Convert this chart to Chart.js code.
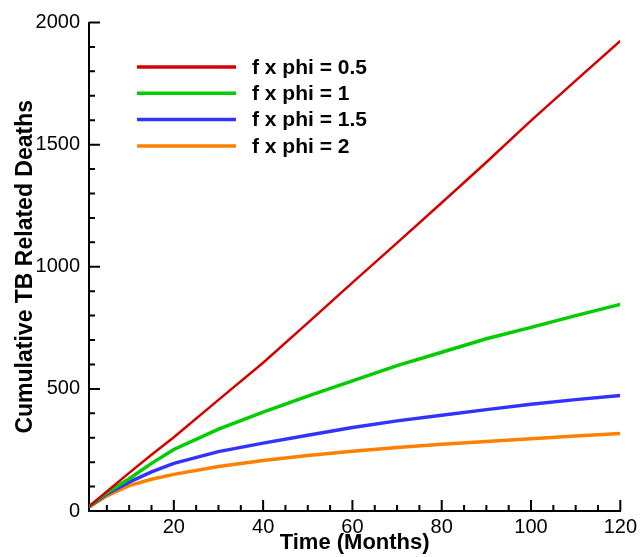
<!DOCTYPE html>
<html>
<head>
<meta charset="utf-8">
<script src="https://cdn.jsdelivr.net/npm/chart.js@4/dist/chart.umd.min.js"></script>
<style>
  html, body { margin: 0; padding: 0; background: #fff; }
  #wrap { width: 641px; height: 557px; position: relative; }
</style>
</head>
<body>
<div id="wrap"><canvas id="c" width="641" height="557"></canvas></div>
<script>
// ---- Data ----
const months = [1, 5, 10, 15, 20, 30, 40, 50, 60, 70, 80, 90, 100, 110, 120];
const seriesLabels = ['f x phi = 0.5', 'f x phi = 1', 'f x phi = 1.5', 'f x phi = 2'];
const deathsPhi05 = [18, 80, 156, 230, 302, 455, 607, 770, 935, 1098, 1262, 1428, 1598, 1762, 1925];
const deathsPhi1  = [18, 75, 132, 195, 252, 335, 405, 470, 533, 595, 650, 705, 752, 800, 846];
const deathsPhi15 = [17, 70, 118, 160, 195, 243, 278, 310, 342, 369, 392, 415, 437, 456, 473];
const deathsPhi2  = [16, 62, 104, 130, 150, 182, 207, 227, 245, 260, 273, 285, 296, 307, 317];
const xTickLabels = [20, 40, 60, 80, 100, 120];
const yTickLabels = [0, 500, 1000, 1500, 2000];
const xMinorStep = 5;
const yMinorStep = 100;

const colors = ['#d40000', '#00cc00', '#3333ff', '#ff8000'];
const widths = [2.5, 3.5, 3.5, 3.5];
const allSeries = [deathsPhi05, deathsPhi1, deathsPhi15, deathsPhi2];

const datasets = allSeries.map((vals, i) => ({
  label: seriesLabels[i],
  data: months.map((m, j) => ({ x: m, y: vals[j] })),
  borderColor: colors[i],
  backgroundColor: colors[i],
  borderWidth: widths[i],
  pointRadius: 0,
  tension: 0,
  fill: false
}));

// Inner tick marks (major + minor) drawn from the scales
const innerTicks = {
  id: 'innerTicks',
  beforeDatasetsDraw(chart) {
    const { ctx, chartArea, scales } = chart;
    const xs = scales.x, ys = scales.y;
    ctx.save();
    ctx.strokeStyle = '#000';
    ctx.lineWidth = 2;
    ctx.beginPath();
    for (let v = xMinorStep; v <= xs.max + 1e-9; v += xMinorStep) {
      const px = xs.getPixelForValue(v);
      const len = xTickLabels.includes(v) ? 11 : 6;
      ctx.moveTo(px, chartArea.bottom);
      ctx.lineTo(px, chartArea.bottom - len);
    }
    for (let v = yMinorStep; v <= ys.max + 1e-9; v += yMinorStep) {
      const py = ys.getPixelForValue(v);
      const len = yTickLabels.includes(v) ? 11 : 6;
      ctx.moveTo(chartArea.left, py);
      ctx.lineTo(chartArea.left + len, py);
    }
    ctx.stroke();
    ctx.restore();
  }
};

// Legend drawn inside the plot area
const insideLegend = {
  id: 'insideLegend',
  afterDraw(chart) {
    const { ctx } = chart;
    ctx.save();
    chart.data.datasets.forEach((ds, i) => {
      const y = 67 + i * 26.3;
      ctx.strokeStyle = ds.borderColor;
      ctx.lineWidth = 3.5;
      ctx.beginPath();
      ctx.moveTo(137, y);
      ctx.lineTo(236, y);
      ctx.stroke();
      ctx.fillStyle = '#000';
      ctx.font = 'bold 21px "Liberation Sans", Arial, sans-serif';
      ctx.textBaseline = 'middle';
      ctx.textAlign = 'left';
      ctx.fillText(ds.label, 252, y + 1);
    });
    ctx.restore();
  }
};

new Chart(document.getElementById('c'), {
  type: 'line',
  data: { datasets },
  plugins: [innerTicks, insideLegend],
  options: {
    responsive: false,
    animation: false,
    layout: { padding: { left: 0, right: 18, top: 22.5, bottom: 0 } },
    plugins: { legend: { display: false }, tooltip: { enabled: false } },
    scales: {
      x: {
        type: 'linear',
        min: 1,
        max: 120,
        grid: { display: false, drawTicks: false },
        border: { display: true, color: '#000', width: 2 },
        afterBuildTicks: (s) => { s.ticks = xTickLabels.map(v => ({ value: v })); },
        afterFit: (s) => { s.height = 46; },
        ticks: {
          color: '#000',
          padding: 4,
          maxRotation: 0,
          callback: (v) => String(v),
          font: { family: '"Liberation Sans", Arial, sans-serif', size: 20 }
        },
        title: {
          display: true,
          text: 'Time (Months)',
          color: '#000',
          padding: { top: 0, bottom: 1 },
          font: { family: '"Liberation Sans", Arial, sans-serif', size: 22, weight: 'bold' }
        }
      },
      y: {
        type: 'linear',
        min: 0,
        max: 2000,
        grid: { display: false, drawTicks: false },
        border: { display: true, color: '#000', width: 2 },
        afterBuildTicks: (s) => { s.ticks = yTickLabels.map(v => ({ value: v })); },
        afterFit: (s) => { s.width = 89; },
        ticks: {
          color: '#000',
          padding: 9,
          callback: (v) => String(v),
          font: { family: '"Liberation Sans", Arial, sans-serif', size: 20 }
        },
        title: {
          display: true,
          text: 'Cumulative TB Related Deaths',
          color: '#000',
          padding: { top: 12, bottom: 0 },
          font: { family: '"Liberation Sans", Arial, sans-serif', size: 23, weight: 'bold' }
        }
      }
    }
  }
});
</script>
</body>
</html>
